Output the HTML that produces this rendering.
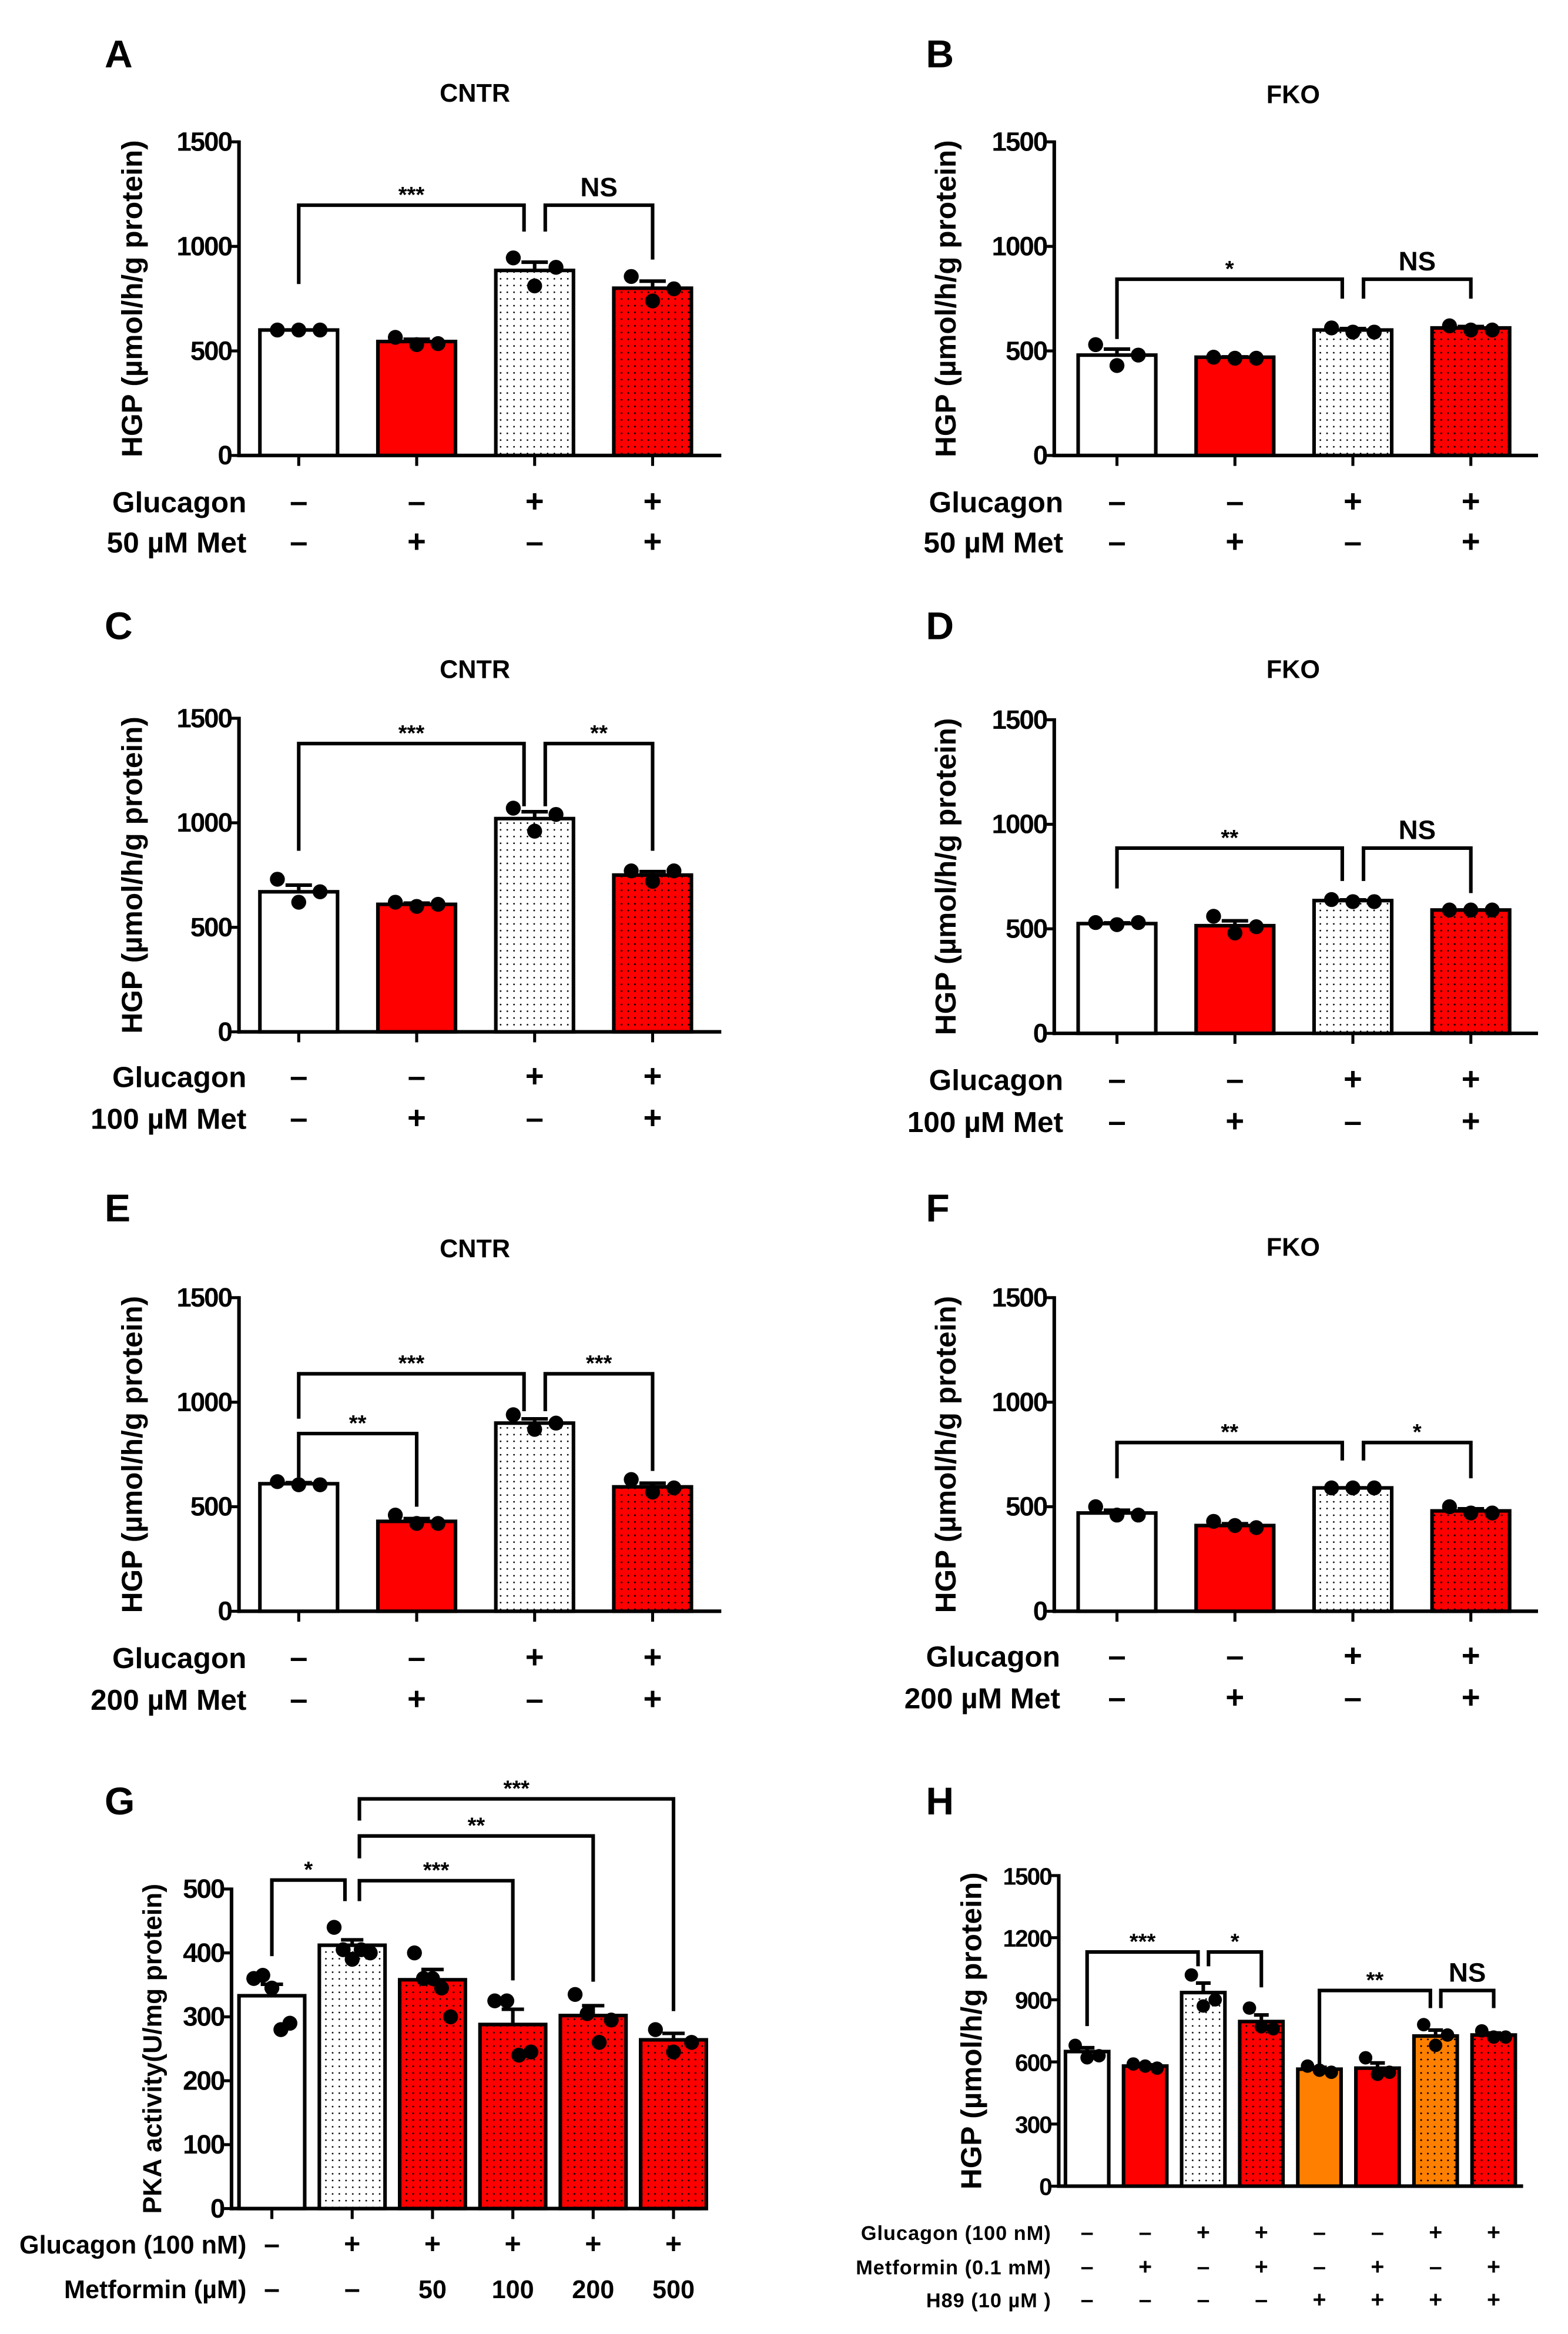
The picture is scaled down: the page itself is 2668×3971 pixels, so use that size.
<!DOCTYPE html>
<html><head><meta charset="utf-8">
<style>
html,body{margin:0;padding:0;background:#fff;}
svg{display:block;}
text{font-family:"Liberation Sans",Arial,sans-serif;font-weight:bold;fill:#000;}
</style></head>
<body>
<svg id="fig" width="2668" height="3971" viewBox="0 0 1050 1563" xmlns="http://www.w3.org/2000/svg">
<defs>
<pattern id="dotW" width="4.5" height="4.5" patternUnits="userSpaceOnUse"><rect width="4.5" height="4.5" fill="#fff"/><circle cx="2.2" cy="2.2" r="0.55" fill="#000"/></pattern>
<pattern id="dotR" width="4.5" height="4.5" patternUnits="userSpaceOnUse"><rect width="4.5" height="4.5" fill="#ff0000"/><circle cx="2.2" cy="2.2" r="0.6" fill="#000"/></pattern>
<pattern id="dotO" width="4.5" height="4.5" patternUnits="userSpaceOnUse"><rect width="4.5" height="4.5" fill="#ff8000"/><circle cx="2.2" cy="2.2" r="0.6" fill="#000"/></pattern>
</defs>
</svg>
<script>
// ---- data ----
const aMeans=[600,545,885,800];
const aDots=[[600,600,600],[565,530,535],[945,811,900],[856,739,797]];
const aBrackets=[[0,2,1197,820,1071,"***"],[2,3,1197,1071,937,"NS"]];
const bMeans=[480,470,600,610];
const bDots=[[530,430,480],[470,465,465],[610,590,590],[620,600,600]];
const bBrackets=[[0,2,843,557,750,"*"],[2,3,843,750,750,"NS"]];
const cMeans=[670,610,1020,750];
const cDots=[[730,620,670],[620,600,610],[1070,960,1040],[770,720,770]];
const cBrackets=[[0,2,1379,866,1079,"***"],[2,3,1379,1079,866,"**"]];
const dMeans=[525,515,635,590];
const dDots=[[530,520,530],[560,480,510],[640,630,630],[590,590,590]];
const dBrackets=[[0,2,886,693,729,"**"],[2,3,886,729,671,"NS"]];
const eMeans=[610,430,900,595];
const eDots=[[620,605,605],[460,420,420],[940,870,900],[630,570,590]];
const eBrackets=[[0,1,850,640,500,"**"],[0,2,1136,921,957,"***"],[2,3,1136,957,671,"***"]];
const fMeans=[470,410,590,480];
const fDots=[[500,460,460],[430,410,400],[590,590,590],[500,470,470]];
const fBrackets=[[0,2,807,636,721,"**"],[2,3,807,721,636,"*"]];
const gMeans=[333,412,358,288,302,264];
const gDots=[[360,365,345,280,290],[440,405,390,405,400],[400,360,360,345,300],[325,325,240,245],[335,305,260,295],[280,245,260]];
const gBrackets=[[0,1,514,395,481,"*"],[1,3,513,481,357,"***"],[1,4,583,548,355,"**"],[1,5,641,607,309,"***"]];
const hMeans=[650,580,935,795,565,570,725,730];
const hDots=[[680,620,630],[590,580,570],[1020,870,900],[860,770,760],[580,560,550],[620,540,550],[780,680,730],[750,720,720]];
const hBrackets=[[0,2,1131,773,1062,"***"],[2,3,1131,1062,960,"*"],[4,6,945,591,860,"**"],[6,7,945,860,860,"NS"]];
const yTicksHGP=[0,500,1000,1500];
const yTicksPKA=[0,100,200,300,400,500];
const yTicksH=[0,300,600,900,1200,1500];
const rowsGM=[["–","–","+","+"],["–","+","–","+"]];
const rowsG=[["–","+","+","+","+","+"],["–","–","50","100","200","500"]];
const rowsH=[["–","–","+","+","–","–","+","+"],["–","+","–","+","–","+","–","+"],["–","–","–","–","+","+","+","+"]];

const NS="http://www.w3.org/2000/svg";
const svg=document.getElementById('fig');
function mk(tag,attrs,parent,txt){const e=document.createElementNS(NS,tag);for(const k in attrs)e.setAttribute(k,attrs[k]);if(txt!==undefined)e.textContent=txt;(parent||svg).appendChild(e);return e;}
const fills={w:"#fff",r:"#ff0000",sw:"url(#dotW)",sr:"url(#dotR)",o:"#ff8000",so:"url(#dotO)"};

function panel(p){
  const g=mk('g',{});
  
  
  const ys=v=>p.y0-(v/p.max)*(p.y0-p.yTop);
  const xs=i=>p.first+i*p.step;
  let t=mk('text',{x:p.lx,y:p.ly,'font-size':26},g,p.id);
  
  if(p.title){t=mk('text',{x:p.tx,y:p.ty,'font-size':17,'text-anchor':'middle'},g,p.title);
    }
  let ax=mk('line',{x1:p.x0,y1:p.yTop-1,x2:p.x0,y2:p.y0+1.2,stroke:'#000','stroke-width':2.4},g);
  
  ax=mk('line',{x1:p.x0-1,y1:p.y0,x2:p.xEnd,y2:p.y0,stroke:'#000','stroke-width':2.4},g);
  
  p.ticks.forEach(v=>{
    const tk=mk('line',{x1:p.x0-5,y1:ys(v),x2:p.x0,y2:ys(v),stroke:'#000','stroke-width':2},g);
    
    const tl=mk('text',{x:p.x0-5,y:ys(v)+6,'font-size':p.tfs,'text-anchor':'end','letter-spacing':'-0.8'},g,String(v));
    
  });
  const my=(p.yTop+p.y0)/2;
  const yl=mk('text',{x:p.ylx,y:my,'font-size':p.ylfs,'text-anchor':'middle',transform:`rotate(-90 ${p.ylx} ${my})`},g,p.ylabel);
  
  p.means.forEach((m,i)=>{
    const cx=xs(i);
    if(p.xticks){const xt=mk('line',{x1:cx,y1:p.y0,x2:cx,y2:p.y0+7,stroke:'#000','stroke-width':2},g);
      }
    const b=mk('rect',{x:cx-p.bw/2,y:ys(m),width:p.bw,height:p.y0-ys(m),fill:fills[p.fills[i]],stroke:'#000','stroke-width':2.4},g);
    
    const d=p.dots[i];const n=d.length;const mean=d.reduce((a,c)=>a+c,0)/n;
    const sd=Math.sqrt(d.reduce((a,c)=>a+(c-mean)**2,0)/(n-1));const se=sd/Math.sqrt(n);
    const eb=mk('path',{d:`M${cx} ${ys(m)} V${ys(m+se)} M${cx-p.bw*0.17} ${ys(m+se)} H${cx+p.bw*0.17}`,stroke:'#000','stroke-width':2.4,fill:'none'},g);
    
    d.forEach((v,j)=>{
      const off=n===1?0:(j/(n-1)-0.5)*p.bw*0.55;
      const c=mk('circle',{cx:cx+off,cy:ys(v),r:p.r,fill:'#000'},g);
      
    });
  });
  const gap=p.step*0.09;
  p.brackets.forEach(br=>{
    const [i1,i2,top,l1,l2,lab]=br;
    let x1=xs(i1),x2=xs(i2);
    if(p.brackets.some(o=>o[1]===i1&&o!==br))x1+=gap;
    if(p.brackets.some(o=>o[0]===i2&&o!==br))x2-=gap;
    const pb=mk('path',{d:`M${x1} ${ys(l1)} V${ys(top)} H${x2} V${ys(l2)}`,stroke:'#000','stroke-width':2.4,fill:'none'},g);
    
    const isNS=lab==="NS";
    const sl=mk('text',{x:(x1+x2)/2,y:ys(top)-(isNS?6:2),'font-size':isNS?18:15,'text-anchor':'middle'},g,lab);
    
  });
  p.rows.forEach((row,r)=>{
    const ry=p.rowY[r];
    const rl=mk('text',{x:p.rlx,y:ry+6,'font-size':p.rfs,'text-anchor':'end','letter-spacing':p.rls||'0'},g,p.rowLabels[r]);
    
    row.forEach((s,i)=>{
      const st=mk('text',{x:xs(i),y:ry+6,'font-size':s.length>1?p.rfs:p.rfs+2,'text-anchor':'middle'},g,s);
      
    });
  });
}
const HG="HGP (\u00b5mol/h/g protein)";
const base={max:1500,ticks:yTicksHGP,step:79,bw:52,r:5,xticks:true,ylabel:HG,ylfs:19.5,tfs:18,rfs:19.5,fills:['w','r','sw','sr']};
panel(Object.assign({},base,{id:'A',title:'CNTR',lx:70,ly:45,tx:318,ty:68,x0:160,yTop:95,y0:305,xEnd:483,first:200,ylx:95,means:aMeans,dots:aDots,brackets:aBrackets,rows:rowsGM,rowY:[337,364],rowLabels:['Glucagon','50 \u00b5M Met'],rlx:165}));
panel(Object.assign({},base,{id:'B',title:'FKO',lx:620,ly:45,tx:866,ty:69,x0:706,yTop:95,y0:305,xEnd:1030,first:748,ylx:640,means:bMeans,dots:bDots,brackets:bBrackets,rows:rowsGM,rowY:[337,364],rowLabels:['Glucagon','50 \u00b5M Met'],rlx:712}));
panel(Object.assign({},base,{id:'C',title:'CNTR',lx:70,ly:428,tx:318,ty:454,x0:160,yTop:481,y0:691,xEnd:483,first:200,ylx:95,means:cMeans,dots:cDots,brackets:cBrackets,rows:rowsGM,rowY:[722,750],rowLabels:['Glucagon','100 \u00b5M Met'],rlx:165}));
panel(Object.assign({},base,{id:'D',title:'FKO',lx:620,ly:428,tx:866,ty:454,x0:706,yTop:482,y0:692,xEnd:1030,first:748,ylx:640,means:dMeans,dots:dDots,brackets:dBrackets,rows:rowsGM,rowY:[724,752],rowLabels:['Glucagon','100 \u00b5M Met'],rlx:712}));
panel(Object.assign({},base,{id:'E',title:'CNTR',lx:70,ly:818,tx:318,ty:842,x0:160,yTop:869,y0:1079,xEnd:483,first:200,ylx:95,means:eMeans,dots:eDots,brackets:eBrackets,rows:rowsGM,rowY:[1111,1139],rowLabels:['Glucagon','200 \u00b5M Met'],rlx:165}));
panel(Object.assign({},base,{id:'F',title:'FKO',lx:620,ly:818,tx:866,ty:841,x0:706,yTop:869,y0:1079,xEnd:1030,first:748,ylx:640,means:fMeans,dots:fDots,brackets:fBrackets,rows:rowsGM,rowY:[1110,1138],rowLabels:['Glucagon','200 \u00b5M Met'],rlx:710}));
panel({id:'G',lx:70,ly:1215,x0:155,yTop:1265,y0:1479,xEnd:470,first:182,step:53.8,bw:44,r:5,xticks:true,max:500,ticks:yTicksPKA,ylabel:'PKA activity(U/mg protein)',ylfs:17.5,tfs:18,ylx:108,
  fills:['w','sw','sr','sr','sr','sr'],means:gMeans,dots:gDots,brackets:gBrackets,rows:rowsG,rowY:[1503,1533],rowLabels:['Glucagon (100 nM)','Metformin (\u00b5M)'],rlx:165,rfs:17});
panel({id:'H',lx:620,ly:1215,x0:709,yTop:1256,y0:1464,xEnd:1020,first:728,step:38.9,bw:29,r:4.5,xticks:false,max:1500,ticks:yTicksH,ylabel:HG,ylfs:19.5,tfs:16,ylx:657,
  fills:['w','r','sw','sr','o','r','so','sr'],means:hMeans,dots:hDots,brackets:hBrackets,rows:rowsH,rowY:[1494,1517,1539],rowLabels:['Glucagon (100 nM)','Metformin (0.1 mM)','H89 (10 \u00b5M )'],rlx:704,rfs:13.5,rls:'0.4'});
</script>
</body></html>
